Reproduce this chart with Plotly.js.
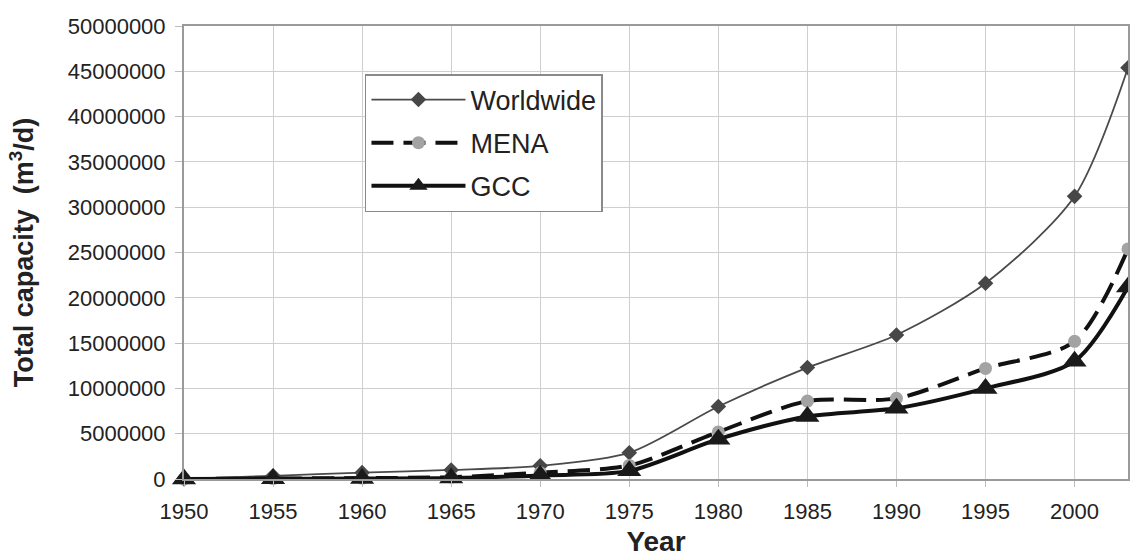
<!DOCTYPE html>
<html>
<head>
<meta charset="utf-8">
<script src="https://cdn.plot.ly/plotly-3.0.1.min.js"></script>
<style>html,body{margin:0;padding:0;background:#fff;}#chart{width:1130px;height:557px;}</style>
</head>
<body>
<div id="chart"></div>
<script>
var years = [1950, 1955, 1960, 1965, 1970, 1975, 1980, 1985, 1990, 1995, 2000, 2003];
var worldwide = [0, 350000, 700000, 1000000, 1450000, 2900000, 8000000, 12300000, 15900000, 21600000, 31200000, 45400000];
var mena = [0, 50000, 100000, 200000, 700000, 1500000, 5200000, 8600000, 8900000, 12200000, 15200000, 25400000];
var gcc = [0, 20000, 50000, 100000, 400000, 900000, 4400000, 6900000, 7800000, 10000000, 13000000, 21200000];
var xTicks = [1950, 1955, 1960, 1965, 1970, 1975, 1980, 1985, 1990, 1995, 2000];
var seriesNames = ['Worldwide', 'MENA', 'GCC'];

var font = 'Liberation Sans, Arial, sans-serif';

var traces = [
  {
    x: years, y: worldwide, name: seriesNames[0], legendgroup: 'g1', type: 'scatter', mode: 'lines+markers',
    line: {color: '#4a4a4a', width: 1.8, shape: 'spline', smoothing: 0.8},
    marker: {symbol: 'diamond', size: 12, color: '#474747'},
    cliponaxis: false
  },
  {
    x: years, y: mena, name: seriesNames[1], legendgroup: 'g2', type: 'scatter', mode: 'lines+markers',
    line: {color: '#111111', width: 4, dash: '22px,10px', shape: 'spline', smoothing: 0.8},
    marker: {symbol: 'circle', size: 13, color: '#a3a3a5'},
    cliponaxis: false
  },
  {
    x: years, y: gcc, name: seriesNames[2], legendgroup: 'g3', type: 'scatter', mode: 'lines+markers',
    line: {color: '#111111', width: 4, shape: 'spline', smoothing: 0.8},
    marker: {symbol: 'triangle-up', size: 21, color: '#1a1a1a'},
    cliponaxis: false
  }
];

var layout = {
  width: 1130, height: 557,
  margin: {l: 184, r: 2, t: 26, b: 78},
  paper_bgcolor: '#ffffff', plot_bgcolor: '#ffffff',
  font: {family: font, color: '#222222'},
  showlegend: true,
  legend: {
    x: 0.1917, y: 0.894, xanchor: 'left', yanchor: 'top',
    bgcolor: '#ffffff', bordercolor: '#8a8a8a', borderwidth: 1.5,
    font: {family: font, size: 27, color: '#222222'},
    itemwidth: 94, tracegroupgap: 5, traceorder: 'grouped'
  },
  xaxis: {
    range: [1950, 2003], tickvals: xTicks, ticktext: xTicks.map(String),
    showgrid: true, gridcolor: '#cfcfcf', gridwidth: 1,
    showline: true, linecolor: '#9a9a9a', linewidth: 2, mirror: true,
    ticks: 'outside', ticklen: 6, tickcolor: '#bdbdbd', tickwidth: 1,
    ticklabelstandoff: 6,
    tickfont: {family: font, size: 22, color: '#222222'},
    zeroline: false,
    title: {text: '<b>Year</b>', font: {family: font, size: 28, color: '#222222'}, standoff: 8}
  },
  yaxis: {
    range: [0, 50000000], dtick: 5000000, tick0: 0, tickformat: 'd',
    showgrid: true, gridcolor: '#cfcfcf', gridwidth: 1,
    showline: true, linecolor: '#9a9a9a', linewidth: 2, mirror: true,
    ticks: 'outside', ticklen: 7, tickcolor: '#bdbdbd', tickwidth: 1,
    ticklabelstandoff: 5,
    tickfont: {family: font, size: 22, color: '#222222'},
    zeroline: false,
    title: {text: '<b>Total capacity  (m<sup>3</sup>/d)</b>', font: {family: font, size: 27, color: '#222222'}, standoff: 26}
  }
};

Plotly.newPlot('chart', traces, layout, {staticPlot: true, displayModeBar: false});
</script>
</body>
</html>
